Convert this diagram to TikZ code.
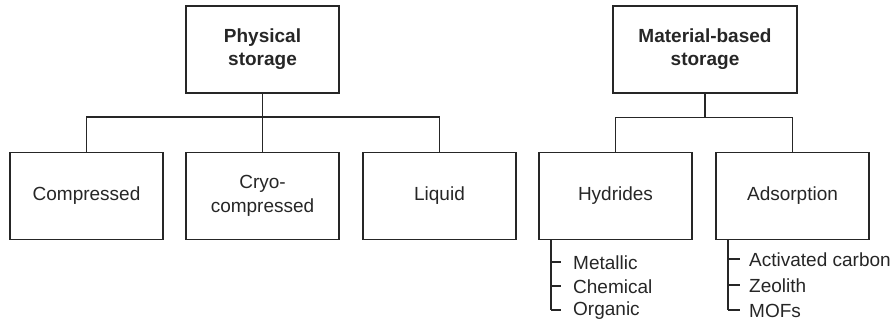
\documentclass[tikz,border=0pt]{standalone}
\usepackage{fontspec}
\setmainfont{Liberation Sans}
\usetikzlibrary{calc}
\definecolor{ink}{HTML}{262626}
\begin{document}
\begin{tikzpicture}[x=1pt,y=-1pt,
  box/.style={draw=ink, line width=1.6pt, inner sep=0pt, minimum width=153pt, minimum height=87pt, align=center, text=ink, font=\fontsize{19}{24}\selectfont},
  topbox/.style={box, font=\fontsize{19}{23}\selectfont\bfseries},
  conn/.style={draw=ink, line width=1.6pt},
  item/.style={anchor=west, inner sep=0pt, text=ink, font=\fontsize{19}{23}\selectfont}]
\useasboundingbox (0,0) rectangle (896,324);
% top boxes
\node[topbox] (phys) at (262.5,49.5) {Physical\\storage};
\node[topbox, minimum width=184pt] (mat) at (705,49.5) {Material-based\\storage};
% children
\node[box] (comp) at (86.5,196) {Compressed};
\node[box] (cryo) at (262.5,196) {Cryo-\\compressed};
\node[box] (liq) at (439.5,196) {Liquid};
\node[box] (hyd) at (615.5,196) {Hydrides};
\node[box] (ads) at (792.5,196) {Adsorption};
% tree connectors
\draw[conn] (phys.south) -- (cryo.north);
\draw[conn] (phys.south) -- ++(0,23) -| (comp.north);
\draw[conn] (phys.south) -- ++(0,23) -| (liq.north);
\draw[conn] (mat.south) -- ++(0,23.5) -| (hyd.north);
\draw[conn] (mat.south) -- ++(0,23.5) -| (ads.north);
% sub-items of Hydrides
\node[item] (met) at (573,263) {Metallic};
\node[item] (che) at (573,287) {Chemical};
\node[item] (org) at (573,311) {Organic};
\coordinate (h0) at ($(hyd.south west)+(13,0)$);
\draw[conn] (h0) -- (h0 |- 0,310);
\draw[conn] (h0 |- 0,262) -- ++(10,0);
\draw[conn] (h0 |- 0,286) -- ++(10,0);
\draw[conn] (h0 |- 0,310) -- ++(10,0);
% sub-items of Adsorption
\node[item] (act) at (749,260) {Activated carbon};
\node[item] (zeo) at (749,286) {Zeolith};
\node[item] (mof) at (749,311) {MOFs};
\coordinate (a0) at ($(ads.south west)+(13,0)$);
\draw[conn] (a0) -- (a0 |- 0,310);
\draw[conn] (a0 |- 0,259) -- ++(12,0);
\draw[conn] (a0 |- 0,285) -- ++(12,0);
\draw[conn] (a0 |- 0,310) -- ++(12,0);
\end{tikzpicture}
\end{document}
